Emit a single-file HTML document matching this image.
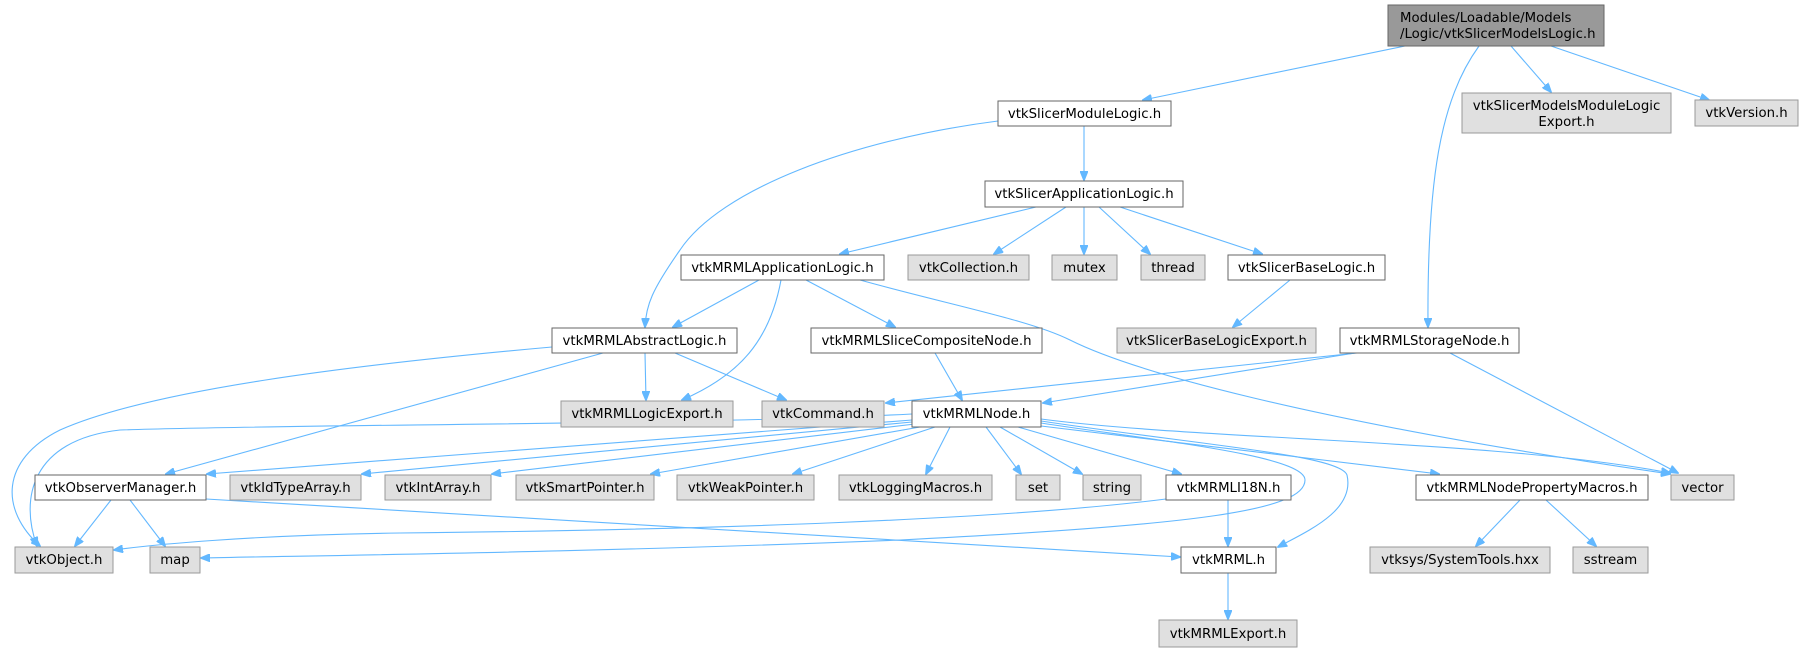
<!DOCTYPE html>
<html><head><meta charset="utf-8"><style>
html,body{margin:0;padding:0;background:#fff;}
svg{display:block;}
text{font-family:"DejaVu Sans","Liberation Sans",sans-serif;font-size:13.3px;fill:#000;text-anchor:middle;}
.w{fill:#fff;stroke:#666;stroke-width:1;}
.g{fill:#e0e0e0;stroke:#999;stroke-width:1;}
.m{fill:#999;stroke:#666;stroke-width:1;}
path{fill:none;stroke:#63b8ff;stroke-width:1.1;marker-end:url(#a);}
</style></head><body>
<svg width="1804" height="652" viewBox="0 0 1804 652" xmlns="http://www.w3.org/2000/svg">
<defs><marker id="a" markerWidth="10" markerHeight="8" refX="9" refY="4" orient="auto" markerUnits="userSpaceOnUse"><polygon points="0,0 10,4 0,8" fill="#63b8ff" stroke="#63b8ff"/></marker></defs>

<path d="M1405,46 L1143,100"/>
<path d="M1479,46 C1440,100 1427,180 1428,327"/>
<path d="M1511,46 L1551,92"/>
<path d="M1551,46 L1709,100"/>
<path d="M1084,126 L1084,180"/>
<path d="M998,121 C850,140 720,190 680,250 C652,290 646,305 645,327"/>
<path d="M1036,207 L840,254"/>
<path d="M1066,207 L994,254"/>
<path d="M1084,207 L1084,254"/>
<path d="M1099,207 L1150,254"/>
<path d="M1120,207 L1262,254"/>
<path d="M759,280 L673,327"/>
<path d="M781,280 C770,340 740,375 682,400"/>
<path d="M806,280 L895,327"/>
<path d="M860,280 C950,305 1030,320 1070,340 C1130,370 1300,420 1670,474"/>
<path d="M1290,280 L1233,327"/>
<path d="M552,347 C350,365 150,390 60,430 C0,460 0,510 40,546"/>
<path d="M603,353 L166,474"/>
<path d="M645,353 L646,400"/>
<path d="M675,353 L786,400"/>
<path d="M935,353 L962,400"/>
<path d="M1357,353 L886,403"/>
<path d="M1355,353 L1043,403"/>
<path d="M1450,353 L1678,473"/>
<path d="M912,414 C700,425 300,424 120,430 C30,440 20,500 37,546"/>
<path d="M912,420 L207,474"/>
<path d="M912,422 L362,474"/>
<path d="M915,424 L492,474"/>
<path d="M920,427 L651,474"/>
<path d="M935,427 L793,474"/>
<path d="M950,427 L926,474"/>
<path d="M986,427 L1021,474"/>
<path d="M1000,427 L1082,474"/>
<path d="M1018,427 L1181,474"/>
<path d="M1041,421 C1200,445 1340,455 1347,475 C1355,510 1310,530 1278,547"/>
<path d="M1041,423 C1150,440 1305,455 1305,480 C1305,510 1200,525 900,540 C600,552 350,555 201,558"/>
<path d="M1166,499 C1000,520 700,530 400,533 C250,535 150,545 114,550"/>
<path d="M1041,426 L1439,474"/>
<path d="M1041,419 C1200,440 1500,440 1670,473"/>
<path d="M111,500 L75,546"/>
<path d="M130,500 L165,546"/>
<path d="M206,499 L1180,557"/>
<path d="M1228,500 L1228,546"/>
<path d="M1520,500 L1476,546"/>
<path d="M1546,500 L1596,546"/>
<path d="M1228,573 L1228,619"/>

<rect class="m" x="1388" y="5" width="216" height="41"/>
<text x="1400" y="22" style="text-anchor:start">Modules/Loadable/Models</text>
<text x="1400" y="38" style="text-anchor:start">/Logic/vtkSlicerModelsLogic.h</text>

<rect class="w" x="998" y="101" width="173" height="25"/><text x="1084.5" y="118">vtkSlicerModuleLogic.h</text>
<rect class="g" x="1462" y="93" width="209" height="40"/><text x="1566.5" y="110">vtkSlicerModelsModuleLogic</text><text x="1566.5" y="126">Export.h</text>
<rect class="g" x="1695" y="100" width="103" height="26"/><text x="1746.5" y="117">vtkVersion.h</text>

<rect class="w" x="985" y="181" width="198" height="26"/><text x="1084" y="198">vtkSlicerApplicationLogic.h</text>

<rect class="w" x="681" y="255" width="203" height="25"/><text x="782.5" y="272">vtkMRMLApplicationLogic.h</text>
<rect class="g" x="908" y="255" width="121" height="25"/><text x="968.5" y="272">vtkCollection.h</text>
<rect class="g" x="1052" y="255" width="65" height="25"/><text x="1084.5" y="272">mutex</text>
<rect class="g" x="1141" y="255" width="64" height="25"/><text x="1173" y="272">thread</text>
<rect class="w" x="1228" y="255" width="157" height="25"/><text x="1306.5" y="272">vtkSlicerBaseLogic.h</text>

<rect class="w" x="552" y="328" width="185" height="25"/><text x="644.5" y="345">vtkMRMLAbstractLogic.h</text>
<rect class="w" x="811" y="328" width="231" height="25"/><text x="926.5" y="345">vtkMRMLSliceCompositeNode.h</text>
<rect class="g" x="1117" y="328" width="199" height="25"/><text x="1216.5" y="345">vtkSlicerBaseLogicExport.h</text>
<rect class="w" x="1340" y="328" width="179" height="25"/><text x="1429.5" y="345">vtkMRMLStorageNode.h</text>

<rect class="g" x="561" y="401" width="172" height="26"/><text x="647" y="418">vtkMRMLLogicExport.h</text>
<rect class="g" x="762" y="401" width="122" height="26"/><text x="823" y="418">vtkCommand.h</text>
<rect class="w" x="912" y="401" width="129" height="26"/><text x="976.5" y="418">vtkMRMLNode.h</text>

<rect class="w" x="35" y="475" width="171" height="25"/><text x="120.5" y="492">vtkObserverManager.h</text>
<rect class="g" x="230" y="475" width="131" height="25"/><text x="295.5" y="492">vtkIdTypeArray.h</text>
<rect class="g" x="385" y="475" width="106" height="25"/><text x="438" y="492">vtkIntArray.h</text>
<rect class="g" x="516" y="475" width="138" height="25"/><text x="585" y="492">vtkSmartPointer.h</text>
<rect class="g" x="677" y="475" width="137" height="25"/><text x="745.5" y="492">vtkWeakPointer.h</text>
<rect class="g" x="839" y="475" width="153" height="25"/><text x="915.5" y="492">vtkLoggingMacros.h</text>
<rect class="g" x="1016" y="475" width="44" height="25"/><text x="1038" y="492">set</text>
<rect class="g" x="1083" y="475" width="58" height="25"/><text x="1112" y="492">string</text>
<rect class="w" x="1166" y="475" width="125" height="25"/><text x="1228.5" y="492">vtkMRMLI18N.h</text>
<rect class="w" x="1416" y="475" width="232" height="25"/><text x="1532" y="492">vtkMRMLNodePropertyMacros.h</text>
<rect class="g" x="1671" y="475" width="63" height="25"/><text x="1702.5" y="492">vector</text>

<rect class="g" x="15" y="547" width="98" height="26"/><text x="64" y="564">vtkObject.h</text>
<rect class="g" x="150" y="547" width="50" height="26"/><text x="175" y="564">map</text>
<rect class="w" x="1181" y="547" width="95" height="26"/><text x="1228.5" y="564">vtkMRML.h</text>
<rect class="g" x="1370" y="547" width="180" height="26"/><text x="1460" y="564">vtksys/SystemTools.hxx</text>
<rect class="g" x="1573" y="547" width="75" height="26"/><text x="1610.5" y="564">sstream</text>

<rect class="g" x="1159" y="620" width="138" height="27"/><text x="1228" y="638">vtkMRMLExport.h</text>
</svg>
</body></html>
